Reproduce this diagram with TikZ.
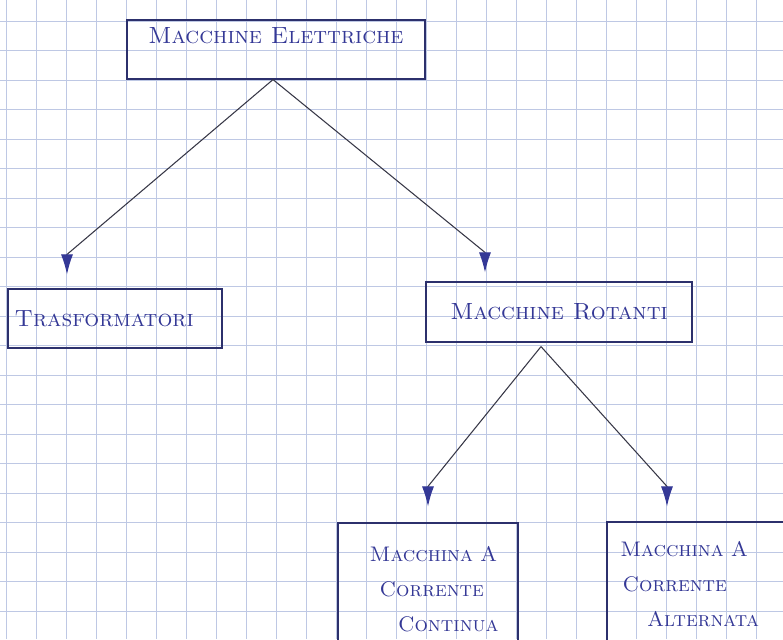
\documentclass[tikz,border=0pt]{standalone}
\usetikzlibrary{arrows.meta,positioning}

\definecolor{ink}{RGB}{52,56,150}
\definecolor{pen}{RGB}{44,48,108}
\definecolor{lead}{RGB}{55,55,70}
\definecolor{squared}{RGB}{190,200,228}

\begin{document}
\begin{tikzpicture}[
    x=0.03cm, y=-0.03cm,
    box/.style={draw=pen, line width=1pt, rectangle, text=ink, inner sep=0.2cm,
        font=\fontsize{20}{30}\selectfont\scshape},
    smallbox/.style={box, font=\fontsize{18}{30}\selectfont\scshape, align=left},
    arrow/.style={-{Latex[length=0.6cm,width=0.36cm,color=ink]}, draw=lead, line width=0.9pt},
    gridline/.style={draw=squared, line width=0.6pt}
]

\useasboundingbox (0,0) rectangle (783,639);
\fill[white] (0,0) rectangle (783,639);
\clip (0,0) rectangle (783,639);

% Squared paper
\foreach \i in {0,...,26}
    \draw[gridline] (6+30*\i,0) -- (6+30*\i,639);
\foreach \j in {0,...,21}
    \draw[gridline] (0,21+29.5*\j) -- (783,21+29.5*\j);

% Boxes
\node[box, minimum width=8.94cm, minimum height=1.77cm, text depth=0.84cm] (elettriche) at (276,49.5) {Macchine Elettriche};
\node[box, minimum width=6.42cm, minimum height=1.77cm, text width=6.02cm, align=left] (trasformatori) at (115,318.5) {Trasformatori};
\node[box, minimum width=7.98cm, minimum height=1.8cm] (rotanti) at (559,312) {Macchine Rotanti};
\node[smallbox, minimum width=5.4cm, minimum height=3.96cm, text width=5cm] (continua) at (428,589)
    {\hspace*{0.75cm}Macchina A\\\hspace*{1.05cm}Corrente\\\hspace*{1.6cm}Continua};
\node[smallbox, minimum width=5.34cm, minimum height=3.72cm, text width=4.94cm] (alternata) at (696,584)
    {\hspace*{0.2cm}Macchina A\\\hspace*{0.27cm}Corrente\\\hspace*{1cm}Alternata};

% Arrows (tips drawn straight down)
\draw[arrow] ([xshift=-0.09cm]elettriche.south) -- ([xshift=-1.44cm,yshift=1.02cm]trasformatori.north)
    -- ([xshift=-1.44cm,yshift=0.42cm]trasformatori.north);
\draw[arrow] ([xshift=-0.09cm]elettriche.south) -- ([xshift=-2.22cm,yshift=0.87cm]rotanti.north)
    -- ([xshift=-2.22cm,yshift=0.27cm]rotanti.north);
\draw[arrow] ([xshift=-0.54cm,yshift=-0.12cm]rotanti.south) -- ([yshift=1.08cm]continua.north)
    -- ([yshift=0.48cm]continua.north);
\draw[arrow] ([xshift=-0.54cm,yshift=-0.12cm]rotanti.south) -- ([xshift=-0.87cm,yshift=1.05cm]alternata.north)
    -- ([xshift=-0.87cm,yshift=0.45cm]alternata.north);

\end{tikzpicture}
\end{document}
